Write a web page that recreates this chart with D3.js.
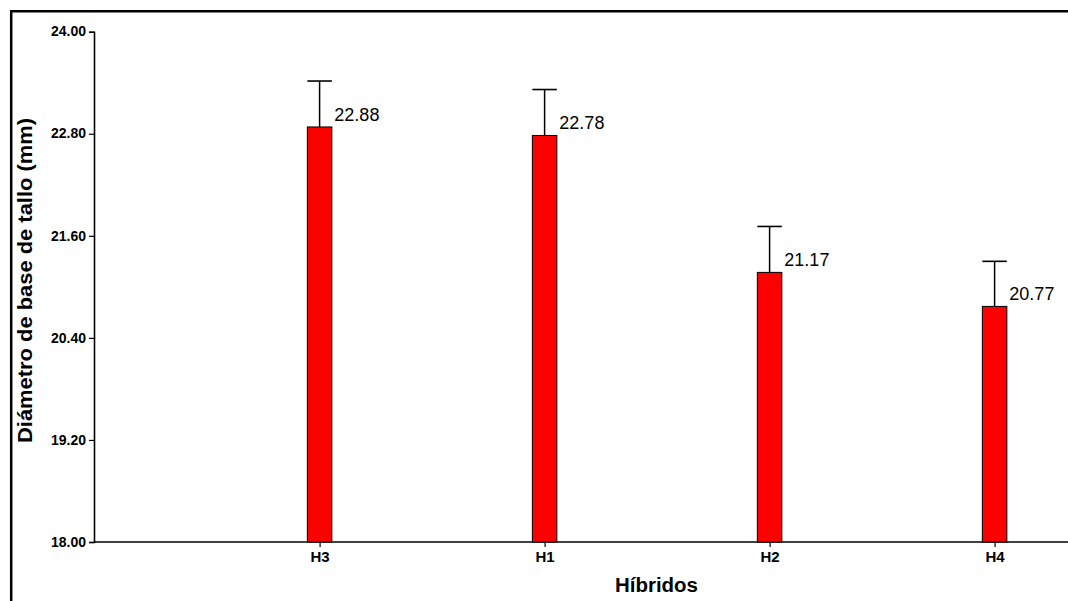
<!DOCTYPE html>
<html>
<head>
<meta charset="utf-8">
<script src="https://cdn.jsdelivr.net/npm/d3@7"></script>
<style>
  html, body { margin: 0; padding: 0; background: #fff; overflow: hidden; }
  svg { display: block; font-family: Arial, "Liberation Sans", sans-serif; }
</style>
</head>
<body>
<svg id="chart" width="1068" height="601"></svg>
<script>
// Stem base diameter per hybrid (mean with error bar)
const hybrids = ["H3", "H1", "H2", "H4"];
const means = [22.88, 22.78, 21.17, 20.77];
const errors = [0.54, 0.54, 0.54, 0.53];
const yTicks = [18.00, 19.20, 20.40, 21.60, 22.80, 24.00];

const svg = d3.select("#chart");

const plotLeft = 94, plotRight = 1068, plotTop = 31.7, plotBottom = 542;
const barWidth = 24.5;

const x = d3.scalePoint().domain(hybrids).range([319.6, 994.6]);
const y = d3.scaleLinear().domain([18, 24]).range([plotBottom, plotTop]);

// Outer frame (top and left edges; the rest runs past the page)
const frame = svg.append("g").attr("stroke", "#000").attr("stroke-width", 2.5);
frame.append("line").attr("x1", 10).attr("x2", 1068).attr("y1", 11.2).attr("y2", 11.2);
frame.append("line").attr("x1", 11.2).attr("x2", 11.2).attr("y1", 10).attr("y2", 601);

// Y axis
const yAxis = d3.axisLeft(y).tickValues(yTicks).tickFormat(d3.format(".2f")).tickSizeOuter(0).tickSize(5);
const gy = svg.append("g").attr("transform", `translate(${plotLeft},0)`).call(yAxis);
gy.select(".domain").attr("stroke", "#000").attr("stroke-width", 1.6);
gy.selectAll(".tick line").attr("stroke", "#000").attr("stroke-width", 1.2);
gy.selectAll(".tick text")
  .attr("x", -8).attr("dy", "0.3em")
  .attr("fill", "#000")
  .style("font-size", "14px").style("font-weight", "bold")
  .style("font-family", "Arial, 'Liberation Sans', sans-serif");

// X axis
const xAxis = d3.axisBottom(x).tickSize(5).tickSizeOuter(0);
const gx = svg.append("g").attr("transform", `translate(0,${plotBottom})`).call(xAxis);
gx.select(".domain").remove();
gx.append("line").attr("x1", plotLeft).attr("x2", plotRight).attr("y1", 0).attr("y2", 0)
  .attr("stroke", "#000").attr("stroke-width", 1.6);
gx.selectAll(".tick line").attr("stroke", "#000").attr("stroke-width", 1.2);
gx.selectAll(".tick text")
  .attr("y", 9).attr("dy", "0.71em")
  .attr("fill", "#000")
  .style("font-size", "15px").style("font-weight", "bold")
  .style("font-family", "Arial, 'Liberation Sans', sans-serif");

const data = hybrids.map((h, i) => ({ h, v: means[i], e: errors[i] }));

// Error bars (upper whisker with cap)
const eb = svg.append("g");
eb.selectAll("line.stem").data(data).join("line")
  .attr("class", "stem")
  .attr("x1", d => x(d.h)).attr("x2", d => x(d.h))
  .attr("y1", d => y(d.v)).attr("y2", d => y(d.v + d.e))
  .attr("stroke", "#000").attr("stroke-width", 1.5);
eb.selectAll("line.cap").data(data).join("line")
  .attr("class", "cap")
  .attr("x1", d => x(d.h) - barWidth / 2).attr("x2", d => x(d.h) + barWidth / 2)
  .attr("y1", d => y(d.v + d.e)).attr("y2", d => y(d.v + d.e))
  .attr("stroke", "#000").attr("stroke-width", 1.6);

// Bars
svg.append("g").selectAll("rect").data(data).join("rect")
  .attr("x", d => x(d.h) - barWidth / 2)
  .attr("y", d => y(d.v))
  .attr("width", barWidth)
  .attr("height", d => y(18) - y(d.v))
  .attr("fill", "#ff0000")
  .attr("stroke", "#000").attr("stroke-width", 1);

// Value labels
svg.append("g").selectAll("text").data(data).join("text")
  .attr("x", d => x(d.h) + barWidth / 2 + 2.5)
  .attr("y", d => y(d.v) - 6)
  .attr("fill", "#000")
  .style("font-size", "18px")
  .text(d => d.v.toFixed(2));

// Axis titles
svg.append("text")
  .attr("transform", "translate(32,280.5) rotate(-90)")
  .attr("text-anchor", "middle")
  .attr("textLength", 325).attr("lengthAdjust", "spacingAndGlyphs")
  .style("font-size", "21px").style("font-weight", "bold")
  .attr("fill", "#000")
  .text("Diámetro de base de tallo (mm)");

svg.append("text")
  .attr("x", 656.5).attr("y", 591.5)
  .attr("text-anchor", "middle")
  .attr("textLength", 83).attr("lengthAdjust", "spacingAndGlyphs")
  .style("font-size", "20px").style("font-weight", "bold")
  .attr("fill", "#000")
  .text("Híbridos");
</script>
</body>
</html>
